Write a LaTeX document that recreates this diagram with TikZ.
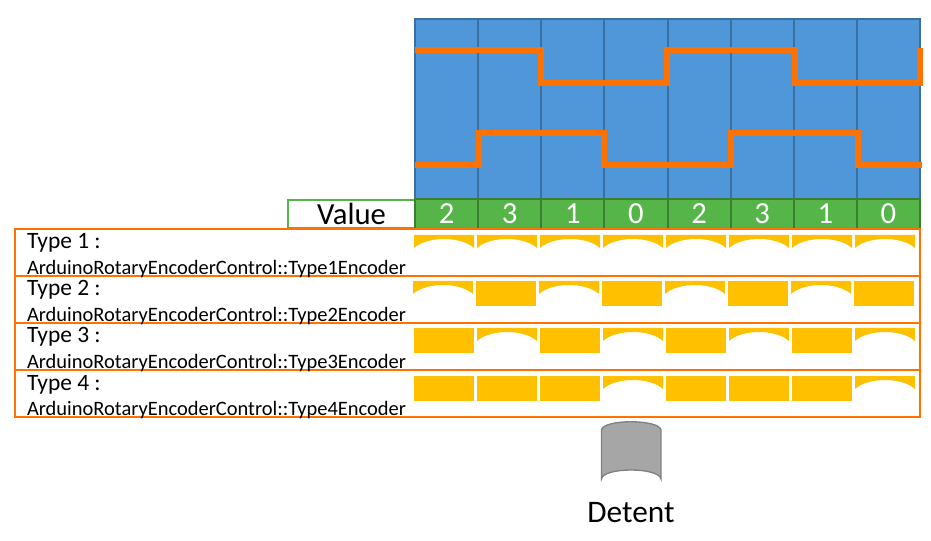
\documentclass[tikz,border=0pt]{standalone}
\usepackage{fontspec}
\setmainfont{Carlito}
\usetikzlibrary{positioning}
\definecolor{cellblue}{HTML}{4F97D8}
\definecolor{celledge}{HTML}{3A70A2}
\definecolor{valgreen}{HTML}{55B548}
\definecolor{valedge}{HTML}{3B7F32}
\definecolor{waveorange}{HTML}{FF7200}
\definecolor{tileyellow}{HTML}{FFC000}
\newcommand{\archtile}[2]{\begin{scope}[shift={({#1},#2)}]\fill[tileyellow] (0,0) -- (60,0) -- (60,13) .. controls (47,1) and (13,1) .. (0,13) -- cycle;\end{scope}}
\newcommand{\recttile}[2]{\fill[tileyellow] ({#1},#2) rectangle ++(60,25);}
\begin{document}
\begin{tikzpicture}[x=.75pt,y=-.75pt,every node/.style={font=\fontsize{17.6}{20}\selectfont,inner sep=0pt,outer sep=0pt},
  typelabel/.style={anchor=base west},
  classlabel/.style={anchor=base west,font=\fontsize{15.35}{18}\selectfont},
  rowbox/.style={draw=waveorange,line width=1.5pt},
  wave/.style={draw=waveorange,line width=3.8pt,line join=miter}]
\useasboundingbox (0,0) rectangle (931,541);
% signal cells
\foreach \i in {0,...,7} {
  \draw[fill=cellblue,draw=celledge,line width=1.5pt] ({415+63.125*\i},19) rectangle ++(63.125,180);
}
\draw[wave] (415,50)--(541,50)--(541,83)--(667,83)--(667,50)--(795,50)--(795,83)--(920,83)--(920,48);
\draw[wave] (415,165)--(479,165)--(479,133)--(604,133)--(604,165)--(731,165)--(731,133)--(858,133)--(858,165)--(922,165);
% values
\node[draw=valgreen,line width=1.5pt,minimum width=95.25pt,minimum height=21pt,anchor=north west,font=\fontsize{23}{26}\selectfont] (valuebox) at (288,200) {\raisebox{-.75pt}{Value}};
\foreach \i/\v in {0/2,1/3,2/1,3/0,4/2,5/3,6/1,7/0} {
  \node[draw=valedge,fill=valgreen,line width=1.5pt,text=white,minimum width=47.34pt,minimum height=22.5pt,anchor=north west,font=\fontsize{23}{26}\selectfont] (val\i) at ({415+63.125*\i},199) {\raisebox{-.75pt}{\v}};
}
% type rows
\draw[rowbox] (15,229) rectangle (920,276);
\draw[rowbox] (15,276) rectangle (920,323);
\draw[rowbox] (15,323) rectangle (920,370);
\draw[rowbox] (15,370) rectangle (920,417);
\node[typelabel] (type1) at (27,249) {Type 1 :};
\node[classlabel] (class1) at (27,274.5) {ArduinoRotaryEncoderControl::Type1Encoder};
\node[typelabel] (type2) at (27,296) {Type 2 :};
\node[classlabel] (class2) at (27,321.5) {ArduinoRotaryEncoderControl::Type2Encoder};
\node[typelabel] (type3) at (27,343) {Type 3 :};
\node[classlabel] (class3) at (27,368.5) {ArduinoRotaryEncoderControl::Type3Encoder};
\node[typelabel] (type4) at (27,390) {Type 4 :};
\node[classlabel] (class4) at (27,415.5) {ArduinoRotaryEncoderControl::Type4Encoder};
% tiles
\foreach \i in {0,...,7} {
  \archtile{414+63*\i}{235}
}
\foreach \i in {0,2,4,6} {
  \archtile{413+63*\i}{281}
  \recttile{413+63*(\i+1)}{281}
  \recttile{414+63*\i}{328}
  \archtile{414+63*(\i+1)}{328}
}
\foreach \i in {0,1,2,4,5,6} {
  \recttile{414+63*\i}{376}
}
\foreach \i in {3,7} {
  \archtile{414+63*\i}{376}
}
% detent
\draw[fill=black!35,draw=black!50,line width=1pt] (601.5,430) .. controls (603,419) and (659,419) .. (661,430) -- (661,479) .. controls (659,467) and (603,467) .. (601.5,479) -- cycle;
\node[font=\fontsize{23.5}{26}\selectfont] (detent) at (631,513) {Detent};
\end{tikzpicture}
\end{document}
